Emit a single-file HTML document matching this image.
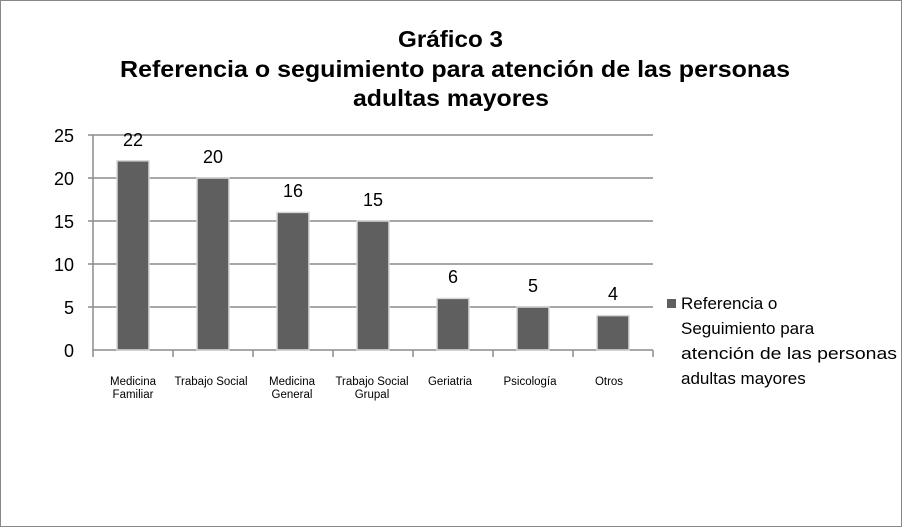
<!DOCTYPE html>
<html><head><meta charset="utf-8"><style>
body{margin:0;background:#fff;}
svg{display:block;font-family:"Liberation Sans",sans-serif;}
</style></head><body>
<svg width="902" height="527" viewBox="0 0 902 527">
<rect x="0.5" y="0.5" width="901" height="526" fill="#fff" stroke="#888" stroke-width="1"/>
<g font-weight="bold" font-size="23" fill="#000">
<text x="398" y="47" textLength="105" lengthAdjust="spacingAndGlyphs">Gráfico 3</text>
<text x="120" y="77" textLength="670" lengthAdjust="spacingAndGlyphs">Referencia o seguimiento para atención de las personas</text>
<text x="353" y="106" textLength="196" lengthAdjust="spacingAndGlyphs">adultas mayores</text>
</g>
<g stroke="#8c8c8c" stroke-width="1.5">
<line x1="88" y1="135" x2="653" y2="135"/>
<line x1="88" y1="178" x2="653" y2="178"/>
<line x1="88" y1="221" x2="653" y2="221"/>
<line x1="88" y1="264" x2="653" y2="264"/>
<line x1="88" y1="307" x2="653" y2="307"/>
<line x1="93" y1="135" x2="93" y2="357"/>
<line x1="93" y1="350" x2="653" y2="350"/>
<line x1="173" y1="350" x2="173" y2="357"/>
<line x1="253" y1="350" x2="253" y2="357"/>
<line x1="333" y1="350" x2="333" y2="357"/>
<line x1="413" y1="350" x2="413" y2="357"/>
<line x1="493" y1="350" x2="493" y2="357"/>
<line x1="573" y1="350" x2="573" y2="357"/>
<line x1="653" y1="350" x2="653" y2="357"/>
</g>
<g font-size="18" text-anchor="end" fill="#000">
<text x="74" y="142">25</text><text x="74" y="185">20</text><text x="74" y="228">15</text>
<text x="74" y="271">10</text><text x="74" y="314">5</text><text x="74" y="357">0</text>
</g>
<g fill="#5f5f5f" stroke="#d8d8d8" stroke-width="1.5">
<rect x="117" y="160.8" width="32" height="189.2"/>
<rect x="197" y="178" width="32" height="172"/>
<rect x="277" y="212.4" width="32" height="137.6"/>
<rect x="357" y="221" width="32" height="129"/>
<rect x="437" y="298.4" width="32" height="51.6"/>
<rect x="517" y="307" width="32" height="43"/>
<rect x="597" y="315.6" width="32" height="34.4"/>
</g>
<g font-size="18" text-anchor="middle" fill="#000">
<text x="133" y="146">22</text><text x="213" y="163">20</text><text x="293" y="197">16</text>
<text x="373" y="206">15</text><text x="453" y="283">6</text><text x="533" y="292">5</text><text x="613" y="300">4</text>
</g>
<g font-size="11.5" text-anchor="middle" fill="#000">
<text x="133" y="385">Medicina</text><text x="133" y="398">Familiar</text>
<text x="211" y="385">Trabajo Social</text>
<text x="292" y="385">Medicina</text><text x="292" y="398">General</text>
<text x="372" y="385">Trabajo Social</text><text x="372" y="398">Grupal</text>
<text x="450" y="385">Geriatria</text>
<text x="530" y="385">Psicología</text>
<text x="609" y="385">Otros</text>
</g>
<rect x="667" y="299" width="9" height="9" fill="#5f5f5f"/>
<g font-size="17" fill="#000">
<text x="681" y="309">Referencia o</text>
<text x="681" y="334">Seguimiento para</text>
<text x="681" y="359" textLength="216" lengthAdjust="spacingAndGlyphs">atención de las personas</text>
<text x="681" y="384">adultas mayores</text>
</g>
</svg>
</body></html>
